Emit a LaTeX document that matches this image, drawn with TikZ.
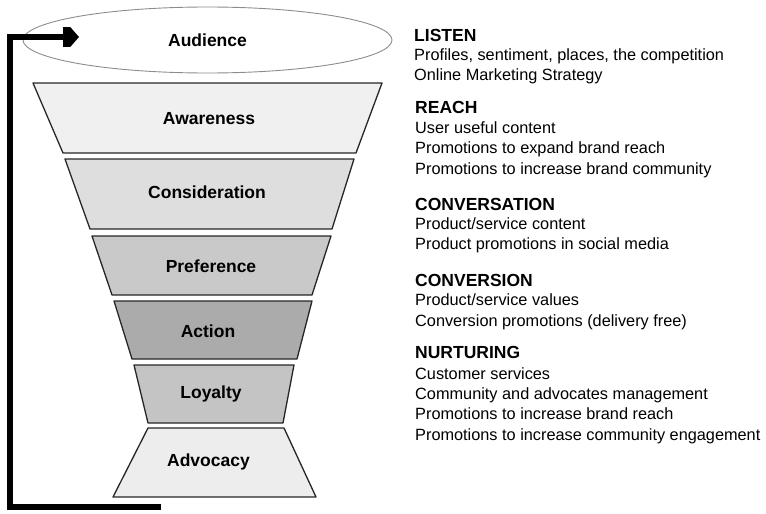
\documentclass[tikz,border=0pt]{standalone}
\usepackage{fontspec}
\setmainfont{Liberation Sans}
\usetikzlibrary{arrows.meta,shapes.geometric}

\definecolor{awarefill}{gray}{0.94}
\definecolor{considerfill}{gray}{0.87}
\definecolor{preferfill}{gray}{0.79}
\definecolor{actionfill}{gray}{0.67}
\definecolor{loyalfill}{gray}{0.77}
\definecolor{advocfill}{gray}{0.93}
\definecolor{rimgray}{gray}{0.55}

\begin{document}
\begin{tikzpicture}[x=1pt,y=-1pt,
  stage/.style={draw=black!85,line width=1.3pt,line join=round},
  stagename/.style={anchor=base,inner sep=0pt,font=\bfseries\fontsize{17.5}{20}\selectfont},
  headline/.style={anchor=base west,inner sep=0pt,font=\bfseries\fontsize{17.5}{20}\selectfont},
  bodylines/.style={anchor=base west,inner sep=0pt,align=left,font=\fontsize{16.3}{20.3}\selectfont}]

\useasboundingbox (0,0) rectangle (766,514);

\node[ellipse,draw=rimgray,line width=.9pt,minimum width=369pt,minimum height=66pt,inner sep=0pt,
  font=\bfseries\fontsize{17.5}{20}\selectfont] (audience) at (207.5,40) {Audience};

\filldraw[stage,fill=awarefill] (33,83) -- (382,83) -- (356,153) -- (63,153) -- cycle;
\filldraw[stage,fill=considerfill] (65,159) -- (354,159) -- (332,229) -- (90,229) -- cycle;
\filldraw[stage,fill=preferfill] (92,236) -- (331,236) -- (312,295) -- (112,295) -- cycle;
\filldraw[stage,fill=actionfill] (114,301) -- (312,301) -- (297,359) -- (132,359) -- cycle;
\filldraw[stage,fill=loyalfill] (134,365) -- (294,365) -- (283,423) -- (148,423) -- cycle;
\filldraw[stage,fill=advocfill] (148,428) -- (284,428) -- (316,497) -- (113,497) -- cycle;

\node[stagename] (awareness) at (209,124) {Awareness};
\node[stagename] (consideration) at (207,198) {Consideration};
\node[stagename] (preference) at (211,272) {Preference};
\node[stagename] (action) at (208,337) {Action};
\node[stagename] (loyalty) at (211,398) {Loyalty};
\node[stagename] (advocacy) at (208.5,466) {Advocacy};

\coordinate (loopend) at (161,507);
\coordinate (loopcorner) at (10,507);
\coordinate (loopin) at (79,37);
\draw[line width=6.5pt,-{Square[length=7pt,width=20pt,sep=0pt]Triangle[length=9pt,width=20pt]}]
  (loopend) -- (loopcorner) |- (loopin);

% multi-line nodes sit on the baseline of their last line
\node[headline] (listen) at (414,41) {LISTEN};
\node[bodylines] (listentext) at (414,80.5) {Profiles, sentiment, places, the competition\\Online Marketing Strategy};
\node[headline] (reach) at (415,113) {REACH};
\node[bodylines] (reachtext) at (415,174) {User useful content\\Promotions to expand brand reach\\Promotions to increase brand community};
\node[headline] (conversation) at (415,210) {CONVERSATION};
\node[bodylines] (conversationtext) at (415,249.5) {Product/service content\\Product promotions in social media};
\node[headline] (conversion) at (415,286) {CONVERSION};
\node[bodylines] (conversiontext) at (415,326) {Product/service values\\Conversion promotions (delivery free)};
\node[headline] (nurturing) at (415,358) {NURTURING};
\node[bodylines] (nurturingtext) at (415,440) {Customer services\\Community and advocates management\\Promotions to increase brand reach\\Promotions to increase community engagement};

\end{tikzpicture}
\end{document}
